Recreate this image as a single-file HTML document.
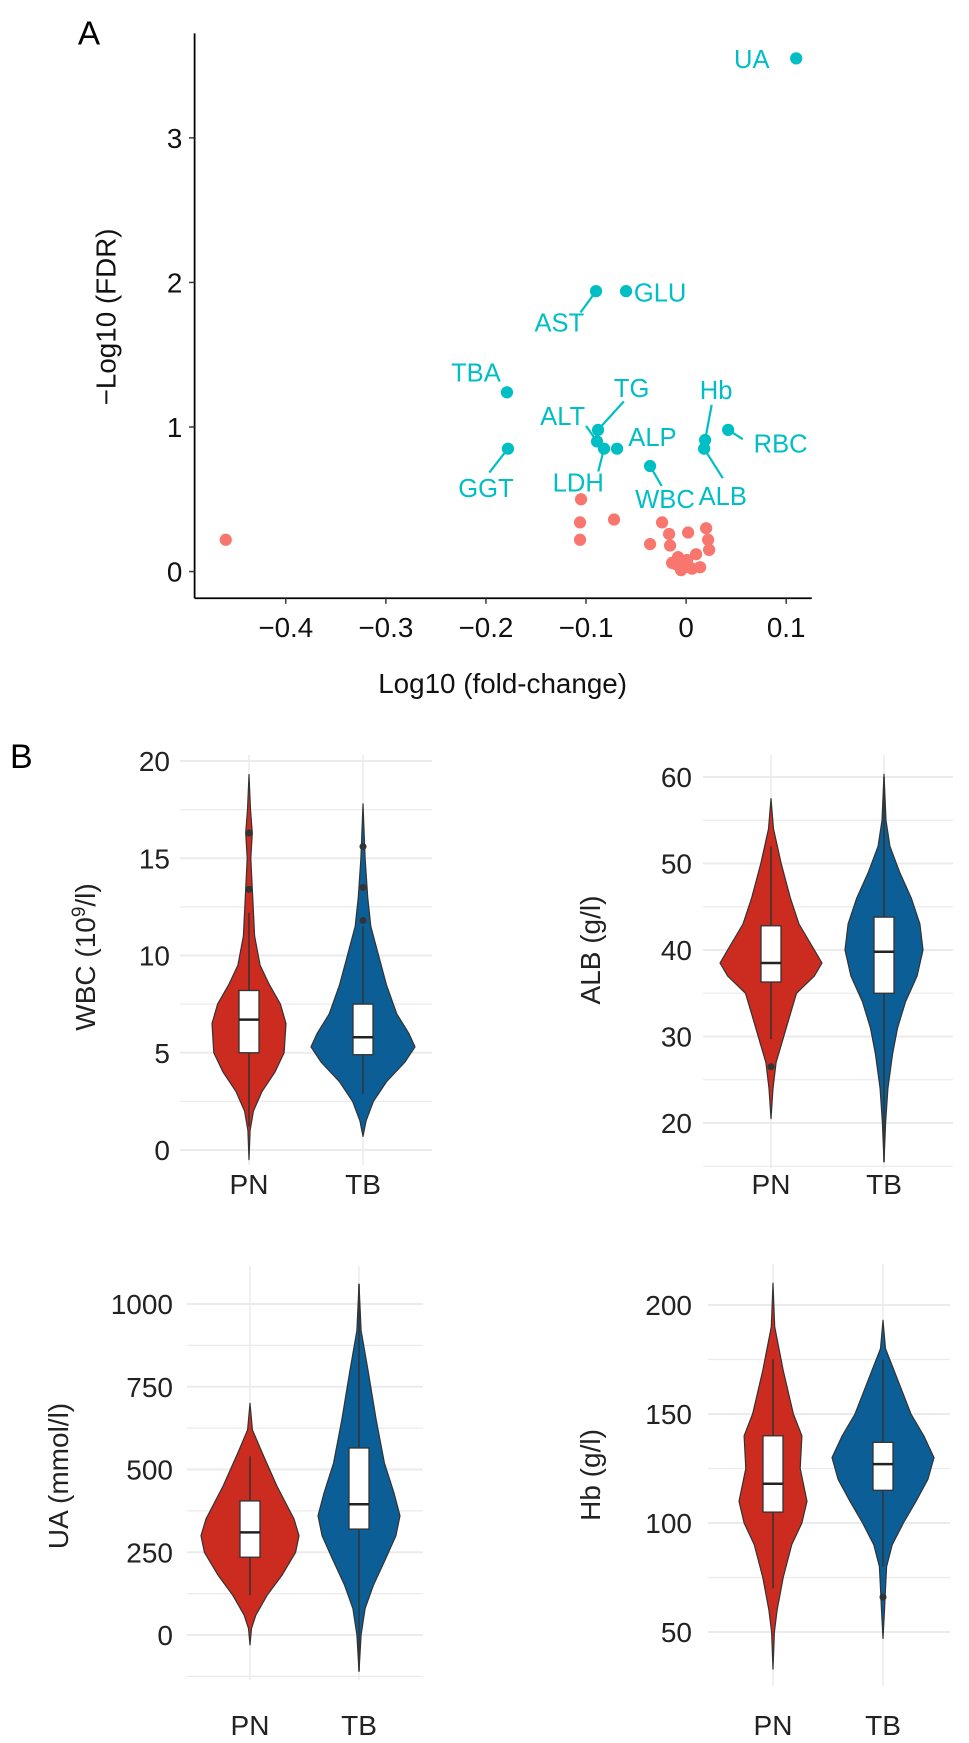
<!DOCTYPE html>
<html><head><meta charset="utf-8"><style>
html,body{margin:0;padding:0;background:#fff}
svg{display:block;font-family:"Liberation Sans",Arial,sans-serif}
</style></head><body>
<svg id="fig" width="969" height="1743" viewBox="0 0 969 1743" xmlns="http://www.w3.org/2000/svg">
<g id="panelA" transform="scale(1.112)"></g>
<g id="panelB"></g>
</svg>
<script>
// ---------- Panel A data ----------
const sigNames = ["UA","GLU","AST","TBA","TG","ALT","LDH","ALP","GGT","WBC","Hb","ALB","RBC"];
const sigFC = [0.11,-0.06,-0.09,-0.179,-0.088,-0.089,-0.082,-0.069,-0.178,-0.036,0.019,0.018,0.042];
const sigFDR = [3.55,1.94,1.94,1.24,0.98,0.9,0.85,0.85,0.85,0.73,0.91,0.85,0.98];
const nsFC = [-0.46,-0.105,-0.106,-0.106,-0.072,-0.036,-0.024,-0.017,0.002,0.02,0.022,0.023,-0.016,-0.008,-0.01,-0.001,0.006,0.01,0.001,0.014,-0.005,-0.014];
const nsFDR = [0.22,0.5,0.34,0.22,0.36,0.19,0.34,0.26,0.27,0.3,0.22,0.15,0.18,0.1,0.05,0.03,0.02,0.12,0.08,0.03,0.01,0.06];
const xTicks = [-0.4,-0.3,-0.2,-0.1,0,0.1];
const xTickLabels = ["\u22120.4","\u22120.3","\u22120.2","\u22120.1","0","0.1"];
const yTicks = [0,1,2,3];
const labelPos = {UA:[692,61,"end"],GLU:[570,271,"start"],AST:[503,298,"middle"],TBA:[428,343,"middle"],TG:[568,357,"middle"],ALT:[506,382,"middle"],ALP:[565,401,"start"],GGT:[437,447,"middle"],LDH:[520,442,"middle"],WBC:[598,457,"middle"],Hb:[644,359,"middle"],ALB:[650,454,"middle"],RBC:[702,407,"middle"]};
const lineEnd = {AST:[522,281],TG:[561,361],ALT:[527,383],LDH:[538,424],GGT:[440,425],WBC:[595,437],Hb:[640,364],ALB:[650,430],RBC:[668,395]};

const NS="http://www.w3.org/2000/svg";
function mk(parent,tag,attrs,text){const e=document.createElementNS(NS,tag);for(const k in attrs)e.setAttribute(k,attrs[k]);if(text!==undefined)e.textContent=text;parent.appendChild(e);return e;}

const A=document.getElementById('panelA');
const ax=v=>617+v*900, ay=v=>514-v*130;
let t=mk(A,'text',{x:70,y:40,'font-size':30,fill:'#000'},'A');


let l=mk(A,'line',{x1:175,y1:30,x2:175,y2:538,stroke:'#000','stroke-width':1.6});


l=mk(A,'line',{x1:175,y1:538,x2:730,y2:538,stroke:'#000','stroke-width':1.6});


xTicks.forEach((v,i)=>{
  const tk=mk(A,'line',{x1:ax(v),y1:538,x2:ax(v),y2:543,stroke:'#333','stroke-width':1.3});
  
  
  const tl=mk(A,'text',{x:ax(v),y:573,'font-size':25,'text-anchor':'middle',fill:'#111'},xTickLabels[i]);
  
  
});
yTicks.forEach(v=>{
  const tk=mk(A,'line',{x1:170,y1:ay(v),x2:175,y2:ay(v),stroke:'#333','stroke-width':1.3});
  
  
  const tl=mk(A,'text',{x:164,y:ay(v)+9,'font-size':25,'text-anchor':'end',fill:'#111'},String(v));
  
  
});
t=mk(A,'text',{x:452,y:623,'font-size':25,'text-anchor':'middle',fill:'#111'},'Log10 (fold-change)');


t=mk(A,'text',{x:0,y:0,'font-size':25,'text-anchor':'middle',fill:'#111',transform:'translate(104,285) rotate(-90)'},'\u2212Log10 (FDR)');


nsFC.forEach((v,i)=>{
  const c=mk(A,'circle',{cx:ax(v),cy:ay(nsFDR[i]),r:5.5,fill:'#F8766D'});
  
  
});
sigNames.forEach((n,i)=>{
  const px=ax(sigFC[i]),py=ay(sigFDR[i]);
  if(lineEnd[n]){
    const ln=mk(A,'line',{x1:px,y1:py,x2:lineEnd[n][0],y2:lineEnd[n][1],stroke:'#00BFC4','stroke-width':2});
    
    
  }
  const c=mk(A,'circle',{cx:px,cy:py,r:5.5,fill:'#00BFC4'});
  
  
  const p=labelPos[n];
  const tx=mk(A,'text',{x:p[0],y:p[1],'font-size':23,'text-anchor':p[2],fill:'#00BFC4'},n);
  
  
});

// ---------- Panel B data ----------
const groups = ["PN","TB"];
const wbcPNv=[19.3,17.5,16.3,15,13,11,9.5,8.5,7.5,6.5,5,4,3,2,1,-0.5];
const wbcPNd=[0,0.04,0.09,0.05,0.1,0.15,0.3,0.55,0.85,1,0.95,0.7,0.35,0.12,0.03,0];
const wbcTBv=[17.8,15,13,11.5,10,8.5,7,6,5.3,4.5,3.5,2.5,1.5,0.7];
const wbcTBd=[0,0.04,0.09,0.15,0.3,0.45,0.65,0.88,1,0.8,0.45,0.2,0.06,0];
const wbcBox=[[5,6.7,8.2,1.2,12.2],[4.9,5.8,7.5,2.9,11.5]];
const wbcOut=[[16.3,13.4],[15.6,13.5,11.8]];
const albPNv=[57.5,54,50,46,43,40,38.5,37,35,33,31,29,27,24,20.5];
const albPNd=[0,0.05,0.2,0.38,0.55,0.85,1,0.85,0.5,0.4,0.3,0.2,0.1,0.04,0];
const albTBv=[60.3,55,52,49,46,43,40,37,34,31,28,24,20,15.5];
const albTBd=[0,0.05,0.15,0.4,0.7,0.92,1,0.85,0.55,0.35,0.22,0.1,0.04,0];
const albBox=[[36.3,38.5,42.8,29.7,52],[35,39.8,43.8,15.5,60]];
const albOut=[[26.5],[]];
const uaPNv=[700,620,550,450,350,300,250,180,120,60,20,-30];
const uaPNd=[0,0.05,0.25,0.55,0.9,1,0.93,0.65,0.35,0.12,0.03,0];
const uaTBv=[1060,920,800,650,520,430,360,300,230,150,80,0,-110];
const uaTBd=[0,0.05,0.22,0.42,0.62,0.85,1,0.9,0.65,0.35,0.15,0.05,0];
const uaBox=[[235,310,405,120,540],[320,395,565,-110,1060]];
const uaOut=[[],[]];
const hbPNv=[210,190,170,150,140,125,110,100,90,75,60,50,33];
const hbPNd=[0,0.05,0.3,0.6,0.85,0.8,1,0.85,0.55,0.3,0.12,0.04,0];
const hbTBv=[193,180,165,150,140,130,120,110,100,90,80,70,60,47];
const hbTBd=[0,0.05,0.3,0.55,0.8,1,0.88,0.65,0.4,0.18,0.07,0.05,0.03,0];
const hbBox=[[105,118,140,70,175],[115,127,137,80,175]];
const hbOut=[[],[66]];

const wbcTicks=[0,5,10,15,20], albTicks=[20,30,40,50,60], uaTicks=[0,250,500,750,1000], hbTicks=[50,100,150,200];

const B=document.getElementById('panelB');
t=mk(B,'text',{x:10,y:768,'font-size':34,fill:'#000'},'B');



const colors=['#CC2B20','#0B5E96'];
function panel(cfg){
  const g=mk(B,'g',{});
  
  
  const y=v=>cfg.y0+(v-cfg.v0)*cfg.k;
  cfg.grid.forEach(v=>{
    const gl=mk(g,'line',{x1:cfg.gx1,x2:cfg.gx2,y1:y(v),y2:y(v),stroke:'#ebebeb','stroke-width':cfg.ticks.includes(v)?2:1.2});
    
    
  });
  cfg.xs.forEach(x=>{
    const gl=mk(g,'line',{x1:x,x2:x,y1:cfg.gTop,y2:cfg.gBot,stroke:'#ebebeb','stroke-width':1.5});
    
    
  });
  cfg.ticks.forEach(v=>{
    const tl=mk(g,'text',{x:cfg.lx,y:y(v)+10,'font-size':28,'text-anchor':'end',fill:'#222'},String(v));
    
    
  });
  groups.forEach((gn,i)=>{
    const x=cfg.xs[i], vs=cfg.vals[i], ds=cfg.dens[i], w=cfg.w[i];
    let pts=vs.map((v,j)=>[x+ds[j]*w,y(v)]);
    let left=vs.map((v,j)=>[x-ds[j]*w,y(v)]).reverse();
    const all=pts.concat(left);
    let d='M'+all.map(p=>p[0].toFixed(1)+','+p[1].toFixed(1)).join(' L')+' Z';
    const vp=mk(g,'path',{d:d,fill:colors[i],stroke:'#333','stroke-width':1.2,'stroke-linejoin':'round'});
    
    
    const b=cfg.box[i];
    const wl=mk(g,'line',{x1:x,x2:x,y1:y(b[4]),y2:y(b[3]),stroke:'#333','stroke-width':1.5});
    
    
    const r=mk(g,'rect',{x:x-10,y:y(b[2]),width:20,height:y(b[0])-y(b[2]),fill:'#fff',stroke:'#333','stroke-width':1.3});
    
    
    const m=mk(g,'line',{x1:x-10,x2:x+10,y1:y(b[1]),y2:y(b[1]),stroke:'#222','stroke-width':2.5});
    
    
    cfg.out[i].forEach(v=>{
      const o=mk(g,'circle',{cx:x,cy:y(v),r:3.5,fill:'#333'});
      
      
    });
    const xl=mk(g,'text',{x:x,y:cfg.xly,'font-size':28,'text-anchor':'middle',fill:'#222'},gn);
    
    
  });
  const tt=mk(g,'text',{x:0,y:0,'font-size':28,'text-anchor':'middle',fill:'#222',transform:`translate(${cfg.tx},${cfg.ty}) rotate(-90)`});
  
  
  tt.innerHTML=cfg.title;
}
panel({name:'wbc-violin',v0:20,y0:761,k:-19.45,gx1:180,gx2:432,xs:[249,363],gTop:755,gBot:1165,grid:[0,2.5,5,7.5,10,12.5,15,17.5,20],ticks:wbcTicks,lx:170,
  vals:[wbcPNv,wbcTBv],dens:[wbcPNd,wbcTBd],w:[37,52],box:wbcBox,out:wbcOut,xly:1194,tx:95,ty:957,
  title:'WBC (10<tspan dy="-10" font-size="19">9</tspan><tspan dy="10">/l)</tspan>'});
panel({name:'alb-violin',v0:60,y0:777,k:-8.65,gx1:703,gx2:953,xs:[771,884],gTop:755,gBot:1168,grid:[15,20,25,30,35,40,45,50,55,60],ticks:albTicks,lx:692,
  vals:[albPNv,albTBv],dens:[albPNd,albTBd],w:[51,39],box:albBox,out:albOut,xly:1194,tx:600,ty:950,title:'ALB (g/l)'});
panel({name:'ua-violin',v0:0,y0:1635,k:-0.331,gx1:187,gx2:423,xs:[250,359],gTop:1266,gBot:1680,grid:[-125,0,125,250,375,500,625,750,875,1000],ticks:uaTicks,lx:173,
  vals:[uaPNv,uaTBv],dens:[uaPNd,uaTBd],w:[49,41],box:uaBox,out:uaOut,xly:1735,tx:68,ty:1476,title:'UA (mmol/l)'});
panel({name:'hb-violin',v0:50,y0:1632,k:-2.18,gx1:708,gx2:950,xs:[773,883],gTop:1264,gBot:1686,grid:[50,75,100,125,150,175,200],ticks:hbTicks,lx:692,
  vals:[hbPNv,hbTBv],dens:[hbPNd,hbTBd],w:[34,51],box:hbBox,out:hbOut,xly:1735,tx:600,ty:1475,title:'Hb (g/l)'});
</script>
</body></html>
